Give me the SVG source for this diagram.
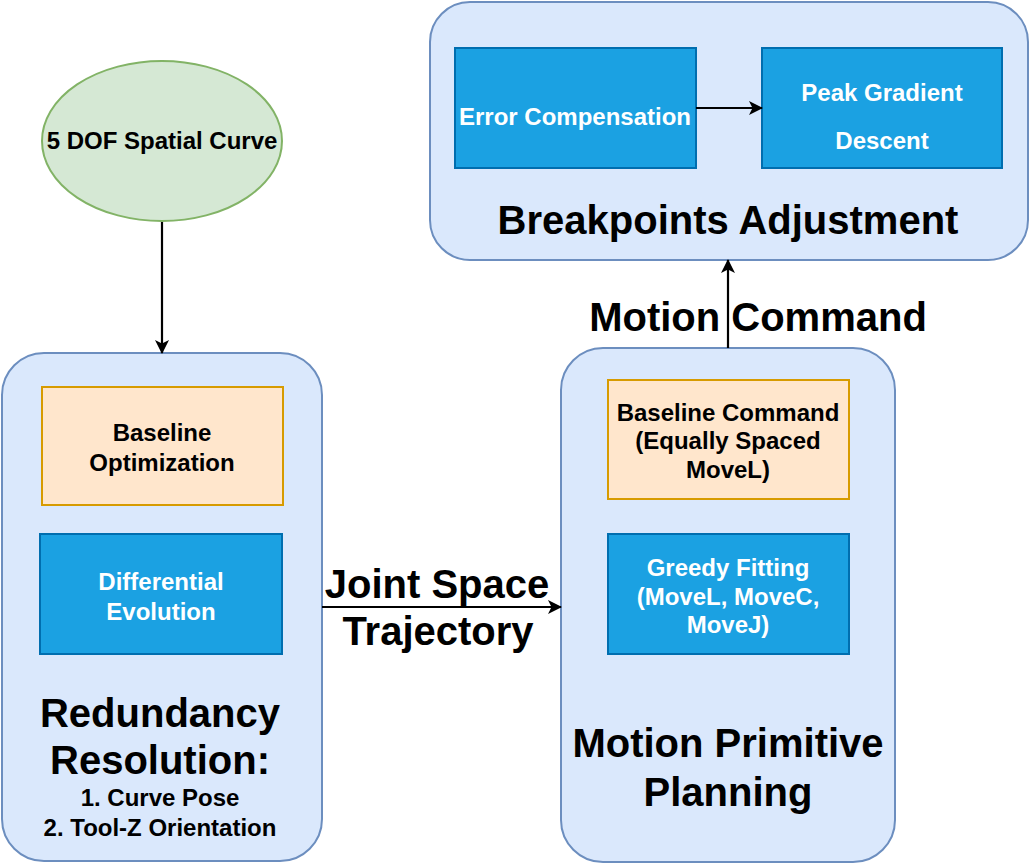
<svg xmlns="http://www.w3.org/2000/svg" width="1030" height="868" viewBox="0 0 1030 868">
<defs>
<style>
text{font-family:"Liberation Sans",Arial,Helvetica,sans-serif;font-weight:bold;text-anchor:middle;}
.cont{fill:#dae8fc;stroke:#6c8ebf;stroke-width:2;}
.orange{fill:#ffe6cc;stroke:#d79b00;stroke-width:2;}
.blue{fill:#1ba1e2;stroke:#006eaf;stroke-width:2;}
.ell{fill:#d5e8d4;stroke:#82b366;stroke-width:2;}
.s{font-size:24px;fill:#000;}
.w{font-size:24px;fill:#fff;}
.big{font-size:40px;fill:#000;}
.edge{stroke:#000;stroke-width:2.2;fill:none;marker-end:url(#arr);}
</style>
<marker id="arr" viewBox="0 0 14 14" refX="13" refY="7" markerWidth="14" markerHeight="14" markerUnits="userSpaceOnUse" orient="auto">
<path d="M0,0 L14,7 L0,14 L3.5,7 Z" fill="#000"/>
</marker>
</defs>
<rect width="1030" height="868" fill="#fff"/>

<g id="curve">
<ellipse class="ell" cx="162" cy="141" rx="120" ry="80"/>
<text class="s" x="162" y="149">5 DOF Spatial Curve</text>
</g>

<g id="redundancy">
<rect class="cont" x="2" y="353" width="320" height="508" rx="42"/>
<text class="big" x="160" y="727">Redundancy</text>
<text class="big" x="160" y="774">Resolution:</text>
<text class="s" x="160" y="806">1. Curve Pose</text>
<text class="s" x="160" y="836">2. Tool-Z Orientation</text>
</g>
<g id="baseline-opt">
<rect class="orange" x="42" y="387" width="241" height="118"/>
<text class="s" x="162" y="441">Baseline</text>
<text class="s" x="162" y="471">Optimization</text>
</g>
<g id="diff-evo">
<rect class="blue" x="40" y="534" width="242" height="120"/>
<text class="w" x="161" y="590">Differential</text>
<text class="w" x="161" y="620">Evolution</text>
</g>

<g id="motion-primitive">
<rect class="cont" x="561" y="348" width="334" height="514" rx="42"/>
<text class="big" x="728" y="757">Motion Primitive</text>
<text class="big" x="728" y="806">Planning</text>
</g>
<g id="baseline-cmd">
<rect class="orange" x="608" y="380" width="241" height="119"/>
<text class="s" x="728" y="421">Baseline Command</text>
<text class="s" x="728" y="449">(Equally Spaced</text>
<text class="s" x="728" y="478">MoveL)</text>
</g>
<g id="greedy">
<rect class="blue" x="608" y="534" width="241" height="120"/>
<text class="w" x="728" y="576">Greedy Fitting</text>
<text class="w" x="728" y="605">(MoveL, MoveC,</text>
<text class="w" x="728" y="633">MoveJ)</text>
</g>

<g id="breakpoints">
<rect class="cont" x="430" y="2" width="598" height="258" rx="40"/>
<text class="big" x="728" y="234">Breakpoints Adjustment</text>
</g>
<g id="error-comp">
<rect class="blue" x="455" y="48" width="241" height="120"/>
<text class="w" x="575" y="125">Error Compensation</text>
</g>
<g id="peak-grad">
<rect class="blue" x="762" y="48" width="240" height="120"/>
<text class="w" x="882" y="101">Peak Gradient</text>
<text class="w" x="882" y="149">Descent</text>
</g>

<g id="connectors">
<line class="edge" x1="162" y1="222" x2="162" y2="353"/>
<line class="edge" x1="322" y1="607" x2="561" y2="607"/>
<line class="edge" x1="728" y1="348" x2="728" y2="260"/>
<line class="edge" x1="696" y1="108" x2="762" y2="108"/>
<text class="big" x="437" y="598">Joint Space</text>
<text class="big" x="438" y="645">Trajectory</text>
<text class="big" x="758" y="331">Motion Command</text>
</g>
</svg>
